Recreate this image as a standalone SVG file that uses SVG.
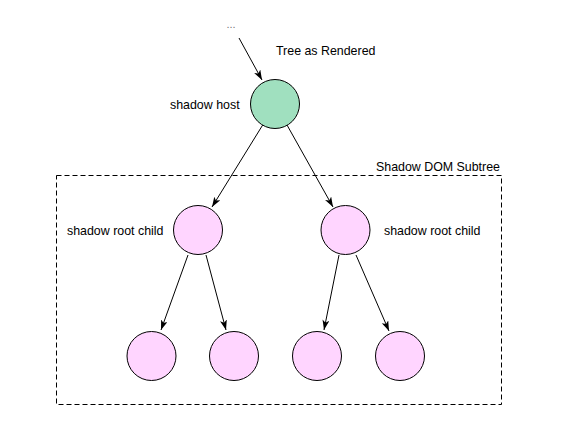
<svg xmlns="http://www.w3.org/2000/svg" width="574" height="424" viewBox="0 0 574 424">
<style>
text{font-family:"Liberation Sans",Arial,sans-serif;font-size:12.4px;fill:#000}
.g{fill:#a0e0bf;stroke:#000;stroke-width:1}
.p{fill:#ffd5ff;stroke:#000;stroke-width:1}
.e{stroke:#000;stroke-width:1;fill:none;marker-end:url(#ah)}
</style>
<defs>
<marker id="ah" markerUnits="userSpaceOnUse" markerWidth="11" markerHeight="8" refX="10" refY="3.5" orient="auto">
<path d="M0,0 L10,3.5 L0,7 L2.5,3.5 z" fill="#000"/>
</marker>
</defs>
<rect x="0" y="0" width="574" height="424" fill="#fff"/>
<g id="subtree">
<rect x="56.5" y="175.5" width="445" height="229" fill="none" stroke="#000" stroke-dasharray="5,3"/>
<text x="376" y="171">Shadow DOM Subtree</text>
</g>
<g id="title"><text x="276" y="55">Tree as Rendered</text></g>
<g id="dots"><text x="231" y="28" text-anchor="middle" style="font-size:11px;fill:#777">...</text></g>
<g id="connectors">
<line class="e" x1="239" y1="38" x2="262" y2="80"/>
<line class="e" x1="263" y1="124.5" x2="212" y2="207"/>
<line class="e" x1="287" y1="125" x2="333" y2="207"/>
<line class="e" x1="188" y1="255" x2="161" y2="330"/>
<line class="e" x1="206" y1="255" x2="226" y2="330"/>
<line class="e" x1="339" y1="255" x2="324" y2="330"/>
<line class="e" x1="356" y1="255" x2="389" y2="331"/>
</g>
<g id="host"><circle class="g" cx="275" cy="104" r="24.5"/><text x="170" y="109">shadow host</text></g>
<g id="rootL"><circle class="p" cx="198" cy="230" r="24.5"/><text x="67" y="235">shadow root child</text></g>
<g id="rootR"><circle class="p" cx="345.5" cy="230" r="24.5"/><text x="384" y="235">shadow root child</text></g>
<g id="leaf1"><circle class="p" cx="151.5" cy="356" r="24.5"/></g>
<g id="leaf2"><circle class="p" cx="234" cy="356" r="24.5"/></g>
<g id="leaf3"><circle class="p" cx="317" cy="356" r="24.5"/></g>
<g id="leaf4"><circle class="p" cx="400" cy="356" r="24.5"/></g>
</svg>
